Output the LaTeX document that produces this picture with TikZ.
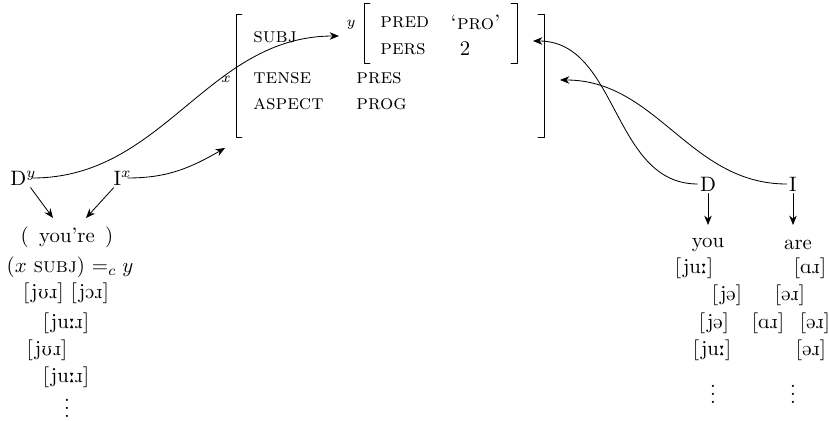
\documentclass[tikz,border=0pt]{standalone}
\usepackage{tipa}
\usetikzlibrary{arrows,arrows.meta}

\begin{document}
\begin{tikzpicture}[line cap=round,line join=round,>={Stealth[length=4.5pt,width=3.6pt]},x=0.48pt,y=-0.48pt,
    every node/.style={inner sep=1pt},
    attr/.style={anchor=west,inner sep=0pt,font=\scshape},
    var/.style={inner sep=0pt,font=\scriptsize}]
    \useasboundingbox (0,0) rectangle (829,421);
    % f-structure
    \draw [line width=0.45pt] (242,14)-- (236,14)-- (236,137)-- (242,137);
    \draw [line width=0.45pt] (538,14)-- (544,14)-- (544,137)-- (538,137);
    \draw [line width=0.45pt] (370,3)-- (364,3)-- (364,63)-- (370,63);
    \draw [line width=0.45pt] (511,3)-- (517,3)-- (517,63)-- (511,63);
    \node[var] (xvar) at (226,79) {$x$};
    \node[var] (yvar) at (351,25) {$y$};
    \node[attr] (subj) at (253,37) {subj};
    \node[attr] (tense) at (253,78) {tense};
    \node[attr] (aspect) at (253,104) {aspect};
    \node[attr] (pres) at (356,78) {pres};
    \node[attr] (prog) at (356,104) {prog};
    \node[attr] (pred) at (380,22) {pred};
    \node[attr] (pers) at (380,49) {pers};
    \node[attr] (pro) at (450,22) {`pro'};
    \node (two) at (465,49) {2};
    % left: you're
    \node[anchor=west] (Dy) at (8,178) {D$^y$};
    \node[anchor=west] (Ix) at (111,178) {I$^x$};
    \node (youre) at (67,237) {(\enspace you're\enspace)};
    \node (cons) at (70,267) {$(x$ \textsc{subj}$)$ $=_c y$};
    \node (lA) at (66,293) {\textipa{[jU\*r] [jO\*r]}};
    \node (lB) at (66,323) {\textipa{[ju:\*r]}};
    \node (lC) at (47,350) {\textipa{[jU\*r]}};
    \node (lD) at (66,377) {\textipa{[ju:\*r]}};
    \node (ldots) at (67,402) {$\vdots$};
    % right: you are
    \node (Dr) at (708,184) {D};
    \node (Ir) at (793,184) {I};
    \node (you) at (708,245) {you};
    \node (are) at (798,245) {are};
    \node (rA) at (694,268) {\textipa{[ju:]}};
    \node (rB) at (810,268) {\textipa{[A\*r]}};
    \node (rC) at (727,295) {\textipa{[j@]}};
    \node (rD) at (790,295) {\textipa{[@\*r]}};
    \node (rE) at (714,323) {\textipa{[j@]}};
    \node (rF) at (768,323) {\textipa{[A\*r]}};
    \node (rG) at (815,323) {\textipa{[@\*r]}};
    \node (rH) at (712,350) {\textipa{[ju:]}};
    \node (rI) at (811,350) {\textipa{[@\*r]}};
    \node (rdotsD) at (713,388) {$\vdots$};
    \node (rdotsI) at (793,388) {$\vdots$};
    % connectors
    \coordinate (youreL) at (53,218);
    \coordinate (youreR) at (86,218);
    \coordinate (subjIn) at (339,36);
    \coordinate (fIn) at (225,148);
    \coordinate (youIn) at (708,225);
    \coordinate (areIn) at (793,225);
    \coordinate (subjOut) at (533,41);
    \coordinate (fOut) at (560,80);
    \draw [->] (Dy) -- (youreL);
    \draw [->] (Ix) -- (youreR);
    \draw [->] ([xshift=-3pt]Dy.east) to[out=0,in=180] (subjIn);
    \draw [->] ([xshift=-3pt]Ix.east) to[out=0,in=210] (fIn);
    \draw [->] (Dr) -- (youIn);
    \draw [->] (Ir) -- (areIn);
    \draw [->] (Dr.west) to[out=180,in=0] (subjOut);
    \draw [->] (Ir.west) to[out=180,in=0] (fOut);
\end{tikzpicture}
\end{document}
